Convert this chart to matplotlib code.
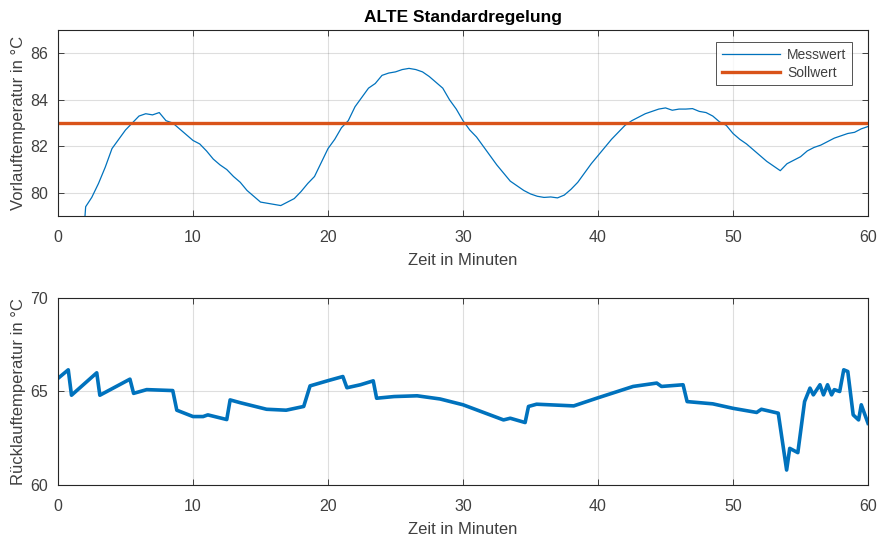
import matplotlib
matplotlib.use("Agg")
import matplotlib.pyplot as plt

plt.rcParams['font.family'] = ['Liberation Sans', 'DejaVu Sans']

# Top panel: Vorlauftemperatur
t_vl = [2.0, 2.05, 2.5, 3.0, 3.5, 4.0, 4.5, 5.0, 5.5, 6.0, 6.5, 7.0, 7.5, 8.0, 8.5, 9.0, 9.5,
        10.0, 10.5, 11.0, 11.5, 12.0, 12.5, 13.0, 13.5, 14.0, 14.5, 15.0, 15.5, 16.0, 16.5,
        17.0, 17.5, 18.0, 18.5, 19.0, 19.5, 20.0, 20.5, 21.0, 21.5, 22.0, 22.5, 23.0, 23.5,
        24.0, 24.5, 25.0, 25.5, 26.0, 26.5, 27.0, 27.5, 28.0, 28.5, 29.0, 29.5, 30.0, 30.5,
        31.0, 31.5, 32.0, 32.5, 33.0, 33.5, 34.0, 34.5, 35.0, 35.5, 36.0, 36.5, 37.0, 37.5,
        38.0, 38.5, 39.0, 39.5, 40.0, 40.5, 41.0, 41.5, 42.0, 42.5, 43.0, 43.5, 44.0, 44.5,
        45.0, 45.5, 46.0, 46.5, 47.0, 47.5, 48.0, 48.5, 49.0, 49.5, 50.0, 50.5, 51.0, 51.5,
        52.0, 52.5, 53.0, 53.5, 54.0, 54.5, 55.0, 55.5, 56.0, 56.5, 57.0, 57.5, 58.0, 58.5,
        59.0, 59.5, 60.0]
vl_mess = [79.0, 79.4, 79.8, 80.4, 81.1, 81.9, 82.3, 82.7, 83.0, 83.3, 83.4, 83.35, 83.45,
           83.1, 83.0, 82.75, 82.5, 82.25, 82.1, 81.8, 81.45, 81.2, 81.0, 80.7, 80.45, 80.1,
           79.85, 79.6, 79.55, 79.5, 79.45, 79.6, 79.75, 80.05, 80.4, 80.7, 81.3, 81.9, 82.3,
           82.8, 83.1, 83.7, 84.1, 84.5, 84.7, 85.05, 85.15, 85.2, 85.3, 85.35, 85.3, 85.2,
           85.0, 84.75, 84.5, 84.0, 83.6, 83.1, 82.7, 82.4, 82.0, 81.6, 81.2, 80.85, 80.5,
           80.3, 80.1, 79.95, 79.85, 79.8, 79.82, 79.78, 79.9, 80.15, 80.45, 80.85, 81.25,
           81.6, 81.95, 82.3, 82.6, 82.9, 83.1, 83.25, 83.4, 83.5, 83.6, 83.65, 83.55, 83.6,
           83.6, 83.62, 83.5, 83.45, 83.3, 83.05, 82.9, 82.55, 82.3, 82.1, 81.85, 81.6, 81.35,
           81.15, 80.95, 81.25, 81.4, 81.55, 81.8, 81.95, 82.05, 82.2, 82.35, 82.45, 82.55,
           82.6, 82.75, 82.85]
t_soll = [0, 60]
vl_soll = [83, 83]

# Bottom panel: Ruecklauftemperatur
t_rl = [0.0, 0.76, 1.0, 2.87, 3.1, 5.33, 5.6, 6.57, 8.5, 8.8, 10.0, 10.75, 11.1, 12.5, 12.75,
        13.5, 15.45, 16.9, 18.2, 18.67, 20.1, 21.1, 21.4, 22.4, 23.35, 23.6, 24.9, 26.6, 28.3,
        30.0, 33.0, 33.5, 34.6, 34.85, 35.45, 38.2, 39.9, 42.6, 44.35, 44.7, 46.3, 46.6, 48.5,
        50.0, 51.75, 52.1, 53.35, 53.97, 54.2, 54.8, 55.3, 55.7, 55.95, 56.44, 56.7, 57.0,
        57.3, 57.5, 57.9, 58.2, 58.5, 58.9, 59.3, 59.5, 60.0]
rl = [65.7, 66.16, 64.8, 66.0, 64.8, 65.66, 64.9, 65.1, 65.05, 64.0, 63.66, 63.66, 63.75, 63.5,
      64.55, 64.4, 64.05, 64.0, 64.2, 65.3, 65.6, 65.8, 65.2, 65.36, 65.57, 64.64, 64.73, 64.77,
      64.6, 64.29, 63.48, 63.57, 63.34, 64.2, 64.32, 64.23, 64.64, 65.27, 65.45, 65.27, 65.36,
      64.46, 64.34, 64.1, 63.88, 64.05, 63.84, 60.8, 61.96, 61.73, 64.46, 65.18, 64.82, 65.36,
      64.82, 65.36, 64.82, 65.1, 65.0, 66.16, 66.07, 63.75, 63.48, 64.29, 63.3]

blue = '#0072BD'
orange = '#D95319'
dark = '#262626'
ticklab = '#404040'

fig = plt.figure(figsize=(8.8, 5.41), dpi=100)
ax1 = fig.add_axes([0.0659, 0.6007, 0.9205, 0.3438])
ax2 = fig.add_axes([0.0659, 0.1035, 0.9205, 0.3457])

for ax in (ax1, ax2):
    ax.grid(True, color=dark, alpha=0.15, lw=0.8)
    ax.set_axisbelow(True)
    ax.tick_params(direction='in', length=4, width=0.6, colors=dark, labelcolor=ticklab,
                   labelsize=11.5, top=True, right=True, labeltop=False, labelright=False)
    ax.tick_params(axis='x', pad=10)
    ax.tick_params(axis='y', pad=7)
    for s in ax.spines.values():
        s.set_color(dark)
        s.set_linewidth(0.8)
    ax.set_xlim(0, 60)
    ax.set_xticks([0, 10, 20, 30, 40, 50, 60])
    ax.set_xlabel('Zeit in Minuten', fontsize=12, color=ticklab, labelpad=6)

ax1.plot(t_vl, vl_mess, color=blue, lw=0.9, label='Messwert')
ax1.plot(t_soll, vl_soll, color=orange, lw=2.4, label='Sollwert')
ax1.set_ylim(79, 87)
ax1.set_yticks([80, 82, 84, 86])
ax1.set_ylabel('Vorlauftemperatur in °C', fontsize=12, color=ticklab, labelpad=3)
ax1.set_title('ALTE Standardregelung', fontsize=12.5, fontweight='bold', color='black', pad=6)
leg = ax1.legend(loc='upper right', fontsize=10, frameon=True, fancybox=False,
                 edgecolor=dark, borderpad=0.4, handlelength=4.2, handletextpad=0.5,
                 labelspacing=0.3, borderaxespad=0, bbox_to_anchor=(0.980, 0.935))
leg.get_frame().set_linewidth(0.7)
for txt in leg.get_texts():
    txt.set_color(ticklab)

ax2.plot(t_rl, rl, color=blue, lw=2.6)
ax2.set_ylim(60, 70)
ax2.set_yticks([60, 65, 70])
ax2.set_ylabel('Rücklauftemperatur in °C', fontsize=12, color=ticklab, labelpad=3)

fig.savefig('out.png', dpi=100)
